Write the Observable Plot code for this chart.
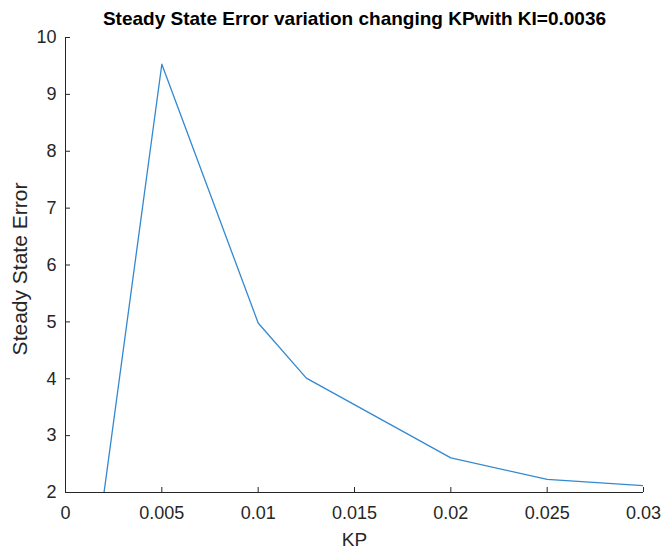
<!DOCTYPE html>
<html>
<head>
<meta charset="utf-8">
<script src="https://cdn.jsdelivr.net/npm/d3@7"></script>
<script src="https://cdn.jsdelivr.net/npm/@observablehq/plot@0.6"></script>
<style>
  body { margin: 0; background: #fff; }
  svg { font-family: "Liberation Sans", Arial, Helvetica, sans-serif; }
</style>
</head>
<body>
<div id="chart"></div>
<script>
const kp = [0.002, 0.005, 0.01, 0.0125, 0.02, 0.025, 0.03];
const sse = [2.0, 9.53, 4.98, 4.01, 2.61, 2.23, 2.12];
const xTicks = [0, 0.005, 0.01, 0.015, 0.02, 0.025, 0.03];
const yTicks = [2, 3, 4, 5, 6, 7, 8, 9, 10];
const title = "Steady State Error variation changing KPwith KI=0.0036";

const data = kp.map((k, i) => ({kp: k, sse: sse[i]}));
const axisColor = "#262626";

const chart = Plot.plot({
  width: 663,
  height: 550,
  marginLeft: 65,
  marginRight: 20,
  marginTop: 37,
  marginBottom: 58,
  style: {fontSize: "18px", color: axisColor, background: "#fff"},
  x: {domain: [0, 0.03], ticks: xTicks, label: null},
  y: {domain: [2, 10], ticks: yTicks, label: null},
  marks: [
    Plot.line(data, {x: "kp", y: "sse", stroke: "#3389d0", strokeWidth: 1.3, clip: true}),
    Plot.axisX({ticks: xTicks, tickSize: -5, tickPadding: 19, tickFormat: d => String(d), stroke: axisColor, fill: axisColor, fontSize: 18, label: null}),
    Plot.axisY({ticks: yTicks, tickSize: -5, tickPadding: 14, tickFormat: d => String(d), stroke: axisColor, fill: axisColor, fontSize: 18, label: null}),
    Plot.ruleY([2], {stroke: axisColor}),
    Plot.ruleX([0], {stroke: axisColor}),
    Plot.text([title], {frameAnchor: "top", dy: -19, text: d => d, fontWeight: "bold", fontSize: 19, fill: "#000", lineAnchor: "middle"}),
    Plot.text(["KP"], {frameAnchor: "bottom", dy: 47, text: d => d, fontSize: 19, fill: axisColor, lineAnchor: "middle"}),
    Plot.text(["Steady State Error"], {frameAnchor: "left", dx: -45, dy: 4, rotate: -90, textAnchor: "middle", text: d => d, fontSize: 21, fill: axisColor, lineAnchor: "middle"})
  ]
});
document.getElementById("chart").appendChild(chart);
</script>
</body>
</html>
